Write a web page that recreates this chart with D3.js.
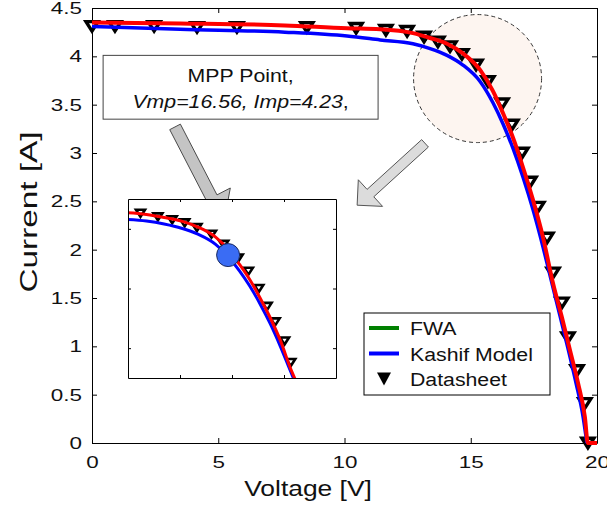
<!DOCTYPE html>
<head>
<meta charset="utf-8">
<script src="https://d3js.org/d3.v7.min.js"></script>
<style>
body { margin: 0; background: white; font-family: 'Liberation Sans', Arial, sans-serif; }
text { fill: #111; }
.axis path, .axis line { stroke: #000; stroke-width: 1; }
</style>
</head>
<body>
<div id="plotContainer"></div>
<script>

// datasheet points (triangles)
var sheetV = [0, 0.91, 2.46, 4.16, 5.74, 8.51, 10.46, 11.64, 12.48, 13.15, 13.70, 14.18, 14.65, 15.21, 15.68, 16.24, 16.63, 17.03, 17.35, 17.66, 18.02, 18.26, 18.61, 18.85, 19.21, 19.52, 19.64];
var sheetI = [4.31, 4.31, 4.31, 4.30, 4.30, 4.30, 4.29, 4.27, 4.26, 4.20, 4.15, 4.10, 4.02, 3.91, 3.74, 3.51, 3.29, 3.00, 2.70, 2.44, 2.12, 1.76, 1.45, 1.09, 0.75, 0.41, 0.0];

// red curve
var redV = [0, 3.49, 7.64, 10.1, 11.41, 12.71, 13.39, 14.06, 14.69, 15.37, 15.88, 16.28, 16.67, 17.07, 17.47, 17.86, 18.26, 18.61, 18.93, 19.25, 19.52, 19.64, 20.0];
var redI = [4.35, 4.34, 4.32, 4.29, 4.28, 4.24, 4.19, 4.13, 4.03, 3.86, 3.64, 3.41, 3.16, 2.85, 2.51, 2.13, 1.65, 1.30, 0.96, 0.62, 0.27, 0.0, 0.0];

// Kashif model (blue)
var blueV = [0, 3.49, 7.64, 10.1, 11.41, 12.71, 13.39, 14.06, 14.69, 15.37, 15.88, 16.28, 16.67, 17.07, 17.47, 17.86, 18.18, 18.53, 18.85, 19.17, 19.45, 19.60];
var blueI = [4.31, 4.28, 4.25, 4.21, 4.17, 4.13, 4.08, 4.01, 3.91, 3.74, 3.52, 3.30, 3.05, 2.75, 2.41, 2.03, 1.69, 1.32, 0.98, 0.62, 0.27, 0.0];

var xTicks = [0, 5, 10, 15, 20];
var yTicks = [0, 0.5, 1, 1.5, 2, 2.5, 3, 3.5, 4, 4.5];
var insetXTicks = [14, 16, 18];
var insetYTicks = [2, 3, 4];
var insetXDomain = [12, 20];
var insetYDomain = [1.5, 4.5];

var mppPoint = [15.85, 3.56];
var mppLines = ["MPP Point,", "Vmp=16.56, Imp=4.23"];
var legendNames = ["FWA", "Kashif Model", "Datasheet"];
var legendColors = ["#008000", "#0000ff", "#000"];

var sx = 1.12; // the picture's text is a bit wide

var svg = d3.select("#plotContainer").append("svg")
    .attr("width", 607).attr("height", 506);

var x = d3.scaleLinear().domain([0, 20]).range([92, 597]);
var y = d3.scaleLinear().domain([0, 4.5]).range([443, 8]);

var xi = d3.scaleLinear().domain(insetXDomain).range([128, 336]);
var yi = d3.scaleLinear().domain(insetYDomain).range([378, 199]);

function pts(vs, is) {
  return vs.map(function(v, k) { return [v, is[k]]; });
}
var sheet = pts(sheetV, sheetI), red = pts(redV, redI), blue = pts(blueV, blueI);

function tri(w, h) {
  return "M" + (-w/2) + "," + (-h/2) + "L" + (w/2) + "," + (-h/2) + "L0," + (h/2) + "Z";
}

// dashed highlight circle (under everything)
svg.append("ellipse")
    .attr("cx", x(15.27)).attr("cy", y(3.77))
    .attr("rx", 64).attr("ry", 64)
    .attr("fill", "#fdf5f0")
    .attr("stroke", "#333").attr("stroke-width", 1)
    .attr("stroke-dasharray", "4,3");

// axes, matlab box with ticks inside
function noLabels(a) { return a.tickFormat(function() { return ""; }); }

var gx = svg.append("g").attr("class", "axis")
    .attr("transform", "translate(0,443)")
    .call(d3.axisBottom(x).tickValues(xTicks).tickSize(-5).tickSizeOuter(0).tickPadding(13));
svg.append("g").attr("class", "axis")
    .attr("transform", "translate(0,8)")
    .call(noLabels(d3.axisTop(x).tickValues(xTicks).tickSize(-5).tickSizeOuter(0)));
var gy = svg.append("g").attr("class", "axis")
    .attr("transform", "translate(92,0)")
    .call(d3.axisLeft(y).tickValues(yTicks).tickSize(-5).tickSizeOuter(0).tickPadding(10)
      .tickFormat(function(d) { return d; }));
svg.append("g").attr("class", "axis")
    .attr("transform", "translate(597,0)")
    .call(noLabels(d3.axisRight(y).tickValues(yTicks).tickSize(-5).tickSizeOuter(0)));

var tickSx = 1.32;
svg.selectAll(".axis text")
    .attr("font-size", 17)
    .attr("font-family", "'Liberation Sans', Arial, sans-serif")
    .attr("fill", "#111");
gx.selectAll("text").attr("transform", "scale(" + tickSx + ",1)")
    .attr("x", 0);
gy.selectAll("text").attr("transform", "scale(" + tickSx + ",1)")
    .attr("x", -10 / tickSx);

// datasheet triangles, then blue, then red
svg.append("g").selectAll("path")
    .data(sheet).enter().append("path")
    .attr("d", tri(12, 9.5))
    .attr("transform", function(d) { return "translate(" + x(d[0]) + "," + y(d[1]) + ")"; })
    .attr("fill", "#fff").attr("stroke", "#000").attr("stroke-width", 3.4);

var line = d3.line()
    .x(function(d) { return x(d[0]); })
    .y(function(d) { return y(d[1]); })
    .curve(d3.curveMonotoneX);

svg.append("path").datum(blue).attr("d", line)
    .attr("fill", "none").attr("stroke", "#0000ff").attr("stroke-width", 3.5);
svg.append("path").datum(red).attr("d", line)
    .attr("fill", "none").attr("stroke", "#ff0000").attr("stroke-width", 4);

// block arrows
function blockArrow(x0, y0, x1, y1, sw, hl, hw) {
  var dx = x1 - x0, dy = y1 - y0, len = Math.sqrt(dx*dx + dy*dy);
  var ux = dx / len, uy = dy / len, nx = -uy, ny = ux;
  var bx = x1 - ux * hl, by = y1 - uy * hl;
  var p = [
    [x0 + nx*sw/2, y0 + ny*sw/2], [bx + nx*sw/2, by + ny*sw/2], [bx + nx*hw/2, by + ny*hw/2],
    [x1, y1],
    [bx - nx*hw/2, by - ny*hw/2], [bx - nx*sw/2, by - ny*sw/2], [x0 - nx*sw/2, y0 - ny*sw/2]
  ];
  return "M" + p.join("L") + "Z";
}

svg.append("path")
    .attr("d", blockArrow(x(3.29), y(3.27), x(5.23), y(2.29), 12, 27, 42))
    .attr("fill", "#c4c4c4").attr("stroke", "#4a4a4a").attr("stroke-width", 1);
svg.append("path")
    .attr("d", blockArrow(x(13.19), y(3.10), x(10.50), y(2.46), 10, 18, 36))
    .attr("fill", "#dcdcdc").attr("stroke", "#555").attr("stroke-width", 1);

// MPP text box
svg.append("rect")
    .attr("x", x(0.44)).attr("y", y(4.01))
    .attr("width", x(11.33) - x(0.44)).attr("height", y(3.35) - y(4.01))
    .attr("fill", "#fff").attr("stroke", "#444").attr("stroke-width", 1);

var mx = (x(0.44) + x(11.33)) / 2;
svg.append("text")
    .attr("transform", "translate(" + mx + "," + 82 + ") scale(" + sx + ",1)")
    .attr("text-anchor", "middle").attr("font-size", 19)
    .text(mppLines[0]);
var t2 = svg.append("text")
    .attr("transform", "translate(" + mx + "," + 108 + ") scale(" + sx + ",1)")
    .attr("text-anchor", "middle").attr("font-size", 19);
t2.append("tspan").attr("font-style", "italic").text(mppLines[1]);
t2.append("tspan").text(",");

// inset
var inset = svg.append("g");
inset.append("rect")
    .attr("x", 128).attr("y", 199).attr("width", 208).attr("height", 179)
    .attr("fill", "#fff");
svg.append("clipPath").attr("id", "insetClip")
  .append("rect").attr("x", 128).attr("y", 199).attr("width", 208).attr("height", 179);

var insetBody = inset.append("g").attr("clip-path", "url(#insetClip)");
insetBody.selectAll("path.tri")
    .data(sheet.filter(function(d) { return d[1] > 1.6; })).enter().append("path")
    .attr("class", "tri")
    .attr("d", tri(9, 7))
    .attr("transform", function(d) { return "translate(" + xi(d[0]) + "," + yi(d[1]) + ")"; })
    .attr("fill", "#fff").attr("stroke", "#000").attr("stroke-width", 2.6);

var lineInset = d3.line()
    .x(function(d) { return xi(d[0]); })
    .y(function(d) { return yi(d[1]); })
    .curve(d3.curveMonotoneX);
insetBody.append("path").datum(blue).attr("d", lineInset)
    .attr("fill", "none").attr("stroke", "#0000ff").attr("stroke-width", 3);
insetBody.append("path").datum(red).attr("d", lineInset)
    .attr("fill", "none").attr("stroke", "#ff0000").attr("stroke-width", 3);

inset.append("circle")
    .attr("cx", xi(mppPoint[0])).attr("cy", yi(mppPoint[1])).attr("r", 11.5)
    .attr("fill", "#3a6cf4").attr("stroke", "#1a2a60").attr("stroke-width", 1);

inset.append("g").attr("class", "axis").attr("transform", "translate(0,378)")
    .call(noLabels(d3.axisBottom(xi).tickValues(insetXTicks).tickSize(-3).tickSizeOuter(0)));
inset.append("g").attr("class", "axis").attr("transform", "translate(0,199)")
    .call(noLabels(d3.axisTop(xi).tickValues(insetXTicks).tickSize(-3).tickSizeOuter(0)));
inset.append("g").attr("class", "axis").attr("transform", "translate(128,0)")
    .call(noLabels(d3.axisLeft(yi).tickValues(insetYTicks).tickSize(-3).tickSizeOuter(0)));
inset.append("g").attr("class", "axis").attr("transform", "translate(336,0)")
    .call(noLabels(d3.axisRight(yi).tickValues(insetYTicks).tickSize(-3).tickSizeOuter(0)));

// legend
var lg = svg.append("g");
lg.append("rect").attr("x", 364).attr("y", 313).attr("width", 186).attr("height", 82)
    .attr("fill", "#fff").attr("stroke", "#000").attr("stroke-width", 1);
legendNames.forEach(function(name, k) {
  var cy = 328 + k * 25.5;
  if (k < 2) {
    lg.append("line").attr("x1", 369).attr("x2", 399).attr("y1", cy).attr("y2", cy)
      .attr("stroke", legendColors[k]).attr("stroke-width", 4);
  } else {
    lg.append("path").attr("d", tri(14, 13))
      .attr("transform", "translate(384," + cy + ")")
      .attr("fill", legendColors[k]);
  }
  lg.append("text")
    .attr("transform", "translate(410," + (cy + 7) + ") scale(" + sx + ",1)")
    .attr("font-size", 19)
    .text(name);
});

// axis titles
svg.append("text")
    .attr("transform", "translate(308,496) scale(1.2,1)")
    .attr("text-anchor", "middle").attr("font-size", 22)
    .text("Voltage [V]");
svg.append("text")
    .attr("transform", "translate(37,212) rotate(-90) scale(1.45,1)")
    .attr("text-anchor", "middle").attr("font-size", 23)
    .text("Current [A]");

</script>
</body>
